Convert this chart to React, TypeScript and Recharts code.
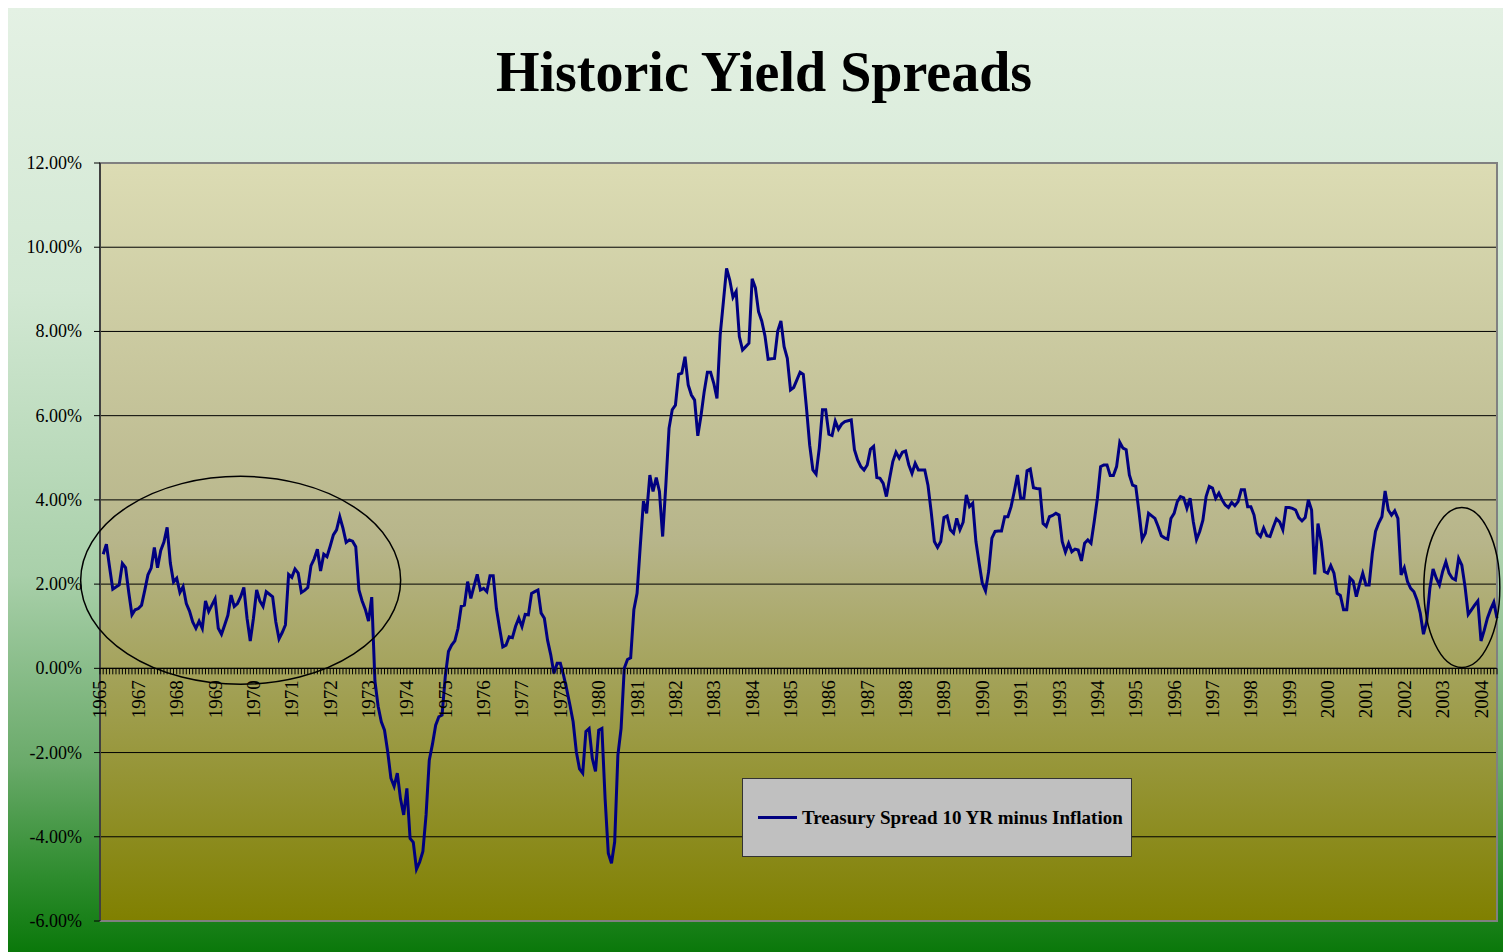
import React from 'react';
import {
  LineChart,
  Line,
  XAxis,
  YAxis,
  CartesianGrid,
  ReferenceLine,
  ReferenceDot,
  ReferenceArea,
  Legend,
} from 'recharts';

const SERIF = "'Times New Roman', 'Liberation Serif', serif";

// year shown under every 12th category
const yearLabels = [
  '1965', '1967', '1968', '1969', '1970', '1971', '1972', '1973', '1974', '1975', '1976', '1977', '1978',
  '1980', '1981', '1982', '1983', '1984', '1985', '1986', '1987', '1988', '1989', '1990', '1991',
  '1993', '1994', '1995', '1996', '1997', '1998', '1999', '2000', '2001', '2002', '2003', '2004',
];

// 10 yr treasury minus inflation, %, one value per category (rows of 12)
const spreadEarly: (number | null)[] = [
  null, 2.71, 2.95, 2.4, 1.88, 1.93, 1.98, 2.49, 2.39, 1.8, 1.27, 1.39,
  1.42, 1.5, 1.85, 2.22, 2.38, 2.87, 2.39, 2.8, 3.0, 3.35, 2.5, 2.05,
  2.14, 1.8, 1.94, 1.54, 1.36, 1.1, 0.95, 1.12, 0.95, 1.6, 1.35, 1.5,
  1.65, 0.95, 0.81, 1.03, 1.26, 1.74, 1.47, 1.54, 1.7, 1.92, 1.19, 0.65,
  1.19, 1.86, 1.6, 1.47, 1.82, 1.76, 1.7, 1.1, 0.7, 0.85, 1.03, 2.23,
  2.16, 2.36, 2.26, 1.8, 1.85, 1.92, 2.44, 2.6, 2.83, 2.31, 2.71, 2.65,
  2.9, 3.17, 3.29, 3.6, 3.33, 2.99, 3.05, 3.02, 2.89, 1.86, 1.6, 1.4,
  1.12, 1.69, -0.3, -0.9, -1.27, -1.47, -1.98, -2.61, -2.8, -2.49, -3.1, -3.48,
  -2.85, -4.04, -4.13, -4.77, -4.6, -4.35, -3.48, -2.18, -1.8, -1.35, -1.15, -1.11,
  -0.2, 0.4, 0.55, 0.65, 0.95, 1.47, 1.5, 2.06, 1.66, 1.95, 2.23, 1.86,
  1.9, 1.82, 2.2, 2.2, 1.42, 0.95, 0.51, 0.55, 0.75, 0.73, 1.0, 1.19,
  0.99, 1.28, 1.27, 1.78, 1.82, 1.86, 1.31, 1.19, 0.67, 0.32, -0.12, 0.12,
  0.12, -0.16, -0.5, -0.87, -1.27, -1.98, -2.39, -2.49, -1.5, -1.43, -2.14, -2.45,
];

const spreadMiddle: number[] = [
  -1.47, -1.43, -3.09, -4.39, -4.63, -4.12, -2.06, -1.43, 0, 0.21, 0.25, 1.39,
  1.78, 2.9, 3.97, 3.68, 4.59, 4.2, 4.53, 4.2, 3.13, 4.35, 5.7, 6.14,
  6.25, 6.98, 7.01, 7.4, 6.73, 6.49, 6.37, 5.52, 6.0, 6.57, 7.03, 7.03,
  6.77, 6.41, 7.92, 8.7, 9.5, 9.22, 8.81, 8.95, 7.88, 7.56, 7.64, 7.72,
  9.25, 9.04, 8.47, 8.25, 7.9, 7.34, 7.35, 7.36, 8.01, 8.25, 7.64, 7.36,
  6.61, 6.67, 6.85, 7.03, 6.98, 6.18, 5.3, 4.71, 4.61, 5.23, 6.14, 6.14,
  5.56, 5.53, 5.87, 5.68, 5.8, 5.86, 5.88, 5.9, 5.19, 4.95, 4.79, 4.71,
  4.83, 5.2, 5.27, 4.53, 4.51, 4.39, 4.08, 4.51, 4.91, 5.13, 4.99, 5.13,
  5.16, 4.83, 4.63, 4.87, 4.71, 4.71, 4.71, 4.35, 3.72, 3.01, 2.87, 3.01,
  3.58, 3.62, 3.29, 3.21, 3.56, 3.29, 3.47, 4.12, 3.84, 3.92, 3.01, 2.5,
  2.02, 1.84, 2.31, 3.09, 3.25, 3.26, 3.26, 3.6, 3.6, 3.84, 4.2, 4.59,
  4.04, 4.04, 4.69, 4.73, 4.29, 4.27, 4.26, 3.44, 3.37, 3.6, 3.63, 3.68,
];

const spreadLate: number[] = [
  3.64, 3.01, 2.76, 2.97, 2.77, 2.83, 2.81, 2.55, 2.97, 3.05, 2.97, 3.48,
  4.04, 4.79, 4.83, 4.83, 4.58, 4.58, 4.79, 5.37, 5.23, 5.19, 4.59, 4.35,
  4.32, 3.72, 3.06, 3.21, 3.68, 3.62, 3.56, 3.37, 3.15, 3.1, 3.07, 3.56,
  3.68, 3.96, 4.08, 4.05, 3.8, 4.04, 3.48, 3.06, 3.25, 3.52, 4.08, 4.32,
  4.28, 4.04, 4.16, 4.0, 3.88, 3.82, 3.94, 3.86, 3.96, 4.24, 4.24, 3.84,
  3.84, 3.64, 3.21, 3.13, 3.33, 3.15, 3.13, 3.35, 3.55, 3.48, 3.29, 3.82,
  3.82, 3.8, 3.76, 3.58, 3.5, 3.58, 4.0, 3.76, 2.23, 3.44, 3.01, 2.3,
  2.26, 2.44, 2.26, 1.78, 1.73, 1.39, 1.39, 2.15, 2.07, 1.7, 2.0, 2.26,
  1.98, 1.98, 2.73, 3.25, 3.45, 3.6, 4.21, 3.76, 3.64, 3.74, 3.56, 2.22,
  2.39, 2.06, 1.9, 1.82, 1.62, 1.31, 0.81, 1.11, 1.9, 2.36, 2.14, 1.98,
  2.3, 2.53, 2.26, 2.14, 2.1, 2.61, 2.45, 1.94, 1.28, 1.39, 1.5, 1.6,
  0.65, 0.9, 1.19, 1.4, 1.57, 1.19,
];

const yTicks = [-6, -4, -2, 0, 2, 4, 6, 8, 10, 12];
const Y_MIN = -6;
const Y_MAX = 12;

// circled periods: [category, value, rx, ry]
const circles: [number, number, number, number][] = [
  [44, 2.09, 160, 104],
  [426, 1.92, 38, 80],
];

const W = 1495;
const H = 944;
const MARGIN = { top: 155, right: 6, bottom: 30, left: 0 };
const X_AXIS_H = 1;
const PLOT_H = H - MARGIN.top - MARGIN.bottom - X_AXIS_H;
const ZERO_Y = MARGIN.top + (PLOT_H * (Y_MAX - 0)) / (Y_MAX - Y_MIN);

const spreadValues = [...spreadEarly, ...spreadMiddle, ...spreadLate];
const data = spreadValues.map((v, idx) => ({ idx, spread: v }));

function YearTick(props: any) {
  const { x, payload } = props;
  const idx = payload.value as number;
  const label = idx % 12 === 0 ? yearLabels[idx / 12] : '';
  const ty = ZERO_Y + 12;
  return (
    <g>
      <line x1={x} x2={x} y1={ZERO_Y} y2={ZERO_Y + 6} stroke="#000" strokeWidth={1} />
      {label && (
        <text
          x={x}
          y={ty}
          transform={`rotate(-90 ${x} ${ty})`}
          textAnchor="end"
          dominantBaseline="central"
          fontFamily={SERIF}
          fontSize={19}
          fill="#000"
        >
          {label}
        </text>
      )}
    </g>
  );
}

function PercentTick(props: any) {
  const { x, y, payload } = props;
  return (
    <text x={x} y={y} textAnchor="end" dominantBaseline="central" fontFamily={SERIF} fontSize={18} fill="#000">
      {`${Number(payload.value).toFixed(2)}%`}
    </text>
  );
}

function LegendBox() {
  return (
    <div
      style={{
        width: 390,
        height: 79,
        boxSizing: 'border-box',
        background: '#c0c0c0',
        border: '1px solid #333',
        display: 'flex',
        alignItems: 'center',
        fontFamily: SERIF,
        fontWeight: 'bold',
        fontSize: 19,
        color: '#000',
      }}
    >
      <div style={{ width: 39, height: 3, background: '#000080', marginLeft: 15, marginRight: 5 }} />
      <span>Treasury Spread 10 YR minus Inflation</span>
    </div>
  );
}

export default function App() {
  return (
    <div
      style={{
        position: 'absolute',
        left: 8,
        top: 8,
        width: W,
        height: H,
        background:
          'linear-gradient(to bottom, #e4f1e4 0%, #d2e8d3 30%, #a9d0aa 60%, #6aaa6a 80%, #2e8c2e 92%, #0a780a 100%)',
      }}
    >
      <LineChart width={W} height={H} data={data} margin={MARGIN}>
        <defs>
          <linearGradient id="plotBg" x1="0" y1="0" x2="0" y2="1">
            <stop offset="0%" stopColor="#dcdcb4" />
            <stop offset="50%" stopColor="#b7b58a" />
            <stop offset="100%" stopColor="#808000" />
          </linearGradient>
        </defs>
        <text x={756} y={83} textAnchor="middle" fontFamily={SERIF} fontWeight="bold" fontSize={56} fill="#000">
          Historic Yield Spreads
        </text>
        <CartesianGrid vertical={false} stroke="#000" strokeWidth={1} fill="url(#plotBg)" fillOpacity={1} />
        <ReferenceArea y1={Y_MIN} y2={Y_MAX} fill="none" stroke="#808080" strokeWidth={2} ifOverflow="visible" />
        <XAxis
          dataKey="idx"
          type="category"
          interval={0}
          height={X_AXIS_H}
          axisLine={false}
          tickLine={false}
          tickSize={0}
          tick={<YearTick />}
        />
        <YAxis
          domain={[Y_MIN, Y_MAX]}
          ticks={yTicks}
          width={92}
          tickSize={6}
          tickMargin={12}
          axisLine={{ stroke: '#000' }}
          tickLine={{ stroke: '#000' }}
          tick={<PercentTick />}
        />
        <ReferenceLine y={0} stroke="#000" strokeWidth={1} />
        <Line
          type="linear"
          dataKey="spread"
          name="Treasury Spread 10 YR minus Inflation"
          stroke="#000080"
          strokeWidth={3}
          dot={false}
          isAnimationActive={false}
        />
        {circles.map(([c, v, rx, ry]) => (
          <ReferenceDot
            key={c}
            x={c}
            y={v}
            ifOverflow="visible"
            shape={(p: any) => (
              <ellipse cx={p.cx} cy={p.cy} rx={rx} ry={ry} fill="none" stroke="#000" strokeWidth={1.5} />
            )}
          />
        ))}
        <Legend
          layout="horizontal"
          verticalAlign="middle"
          align="center"
          wrapperStyle={{ left: 734, top: 770, width: 390, height: 79 }}
          content={() => <LegendBox />}
        />
      </LineChart>
    </div>
  );
}
